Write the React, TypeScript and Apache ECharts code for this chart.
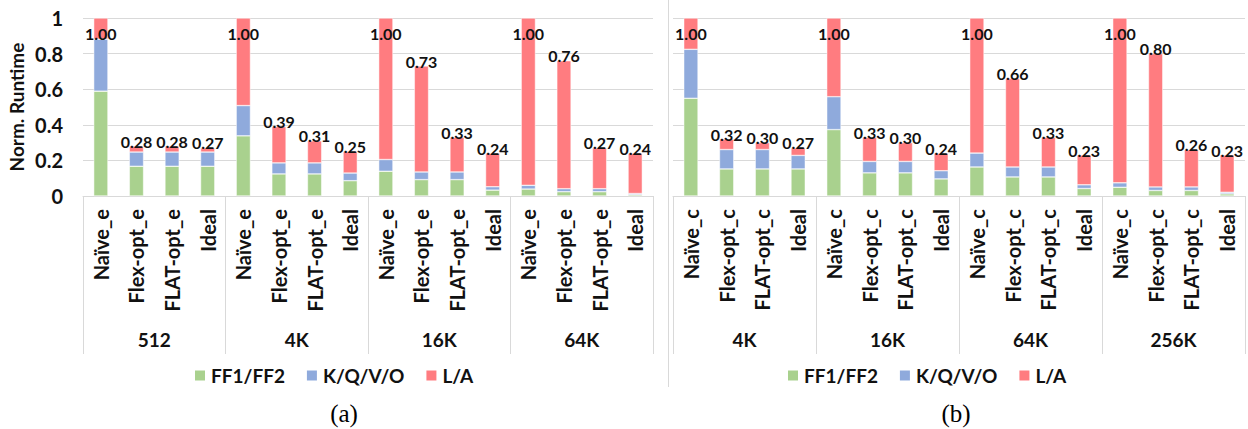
import React, { useEffect, useRef } from "react";
import * as echarts from "echarts";

// Stage labels and sequence-length groups
const stagesE = ["Naïve_e", "Flex-opt_e", "FLAT-opt_e", "Ideal"];
const stagesC = ["Naïve_c", "Flex-opt_c", "FLAT-opt_c", "Ideal"];
const groupsE = ["512", "4K", "16K", "64K"];
const groupsC = ["4K", "16K", "64K", "256K"];

const seriesNames = ["FF1/FF2", "K/Q/V/O", "L/A"];

// (a) encoder runtimes, normalised
const ffE = [0.589, 0.167, 0.167, 0.167, 0.338, 0.124, 0.124, 0.086, 0.139, 0.092, 0.092, 0.033, 0.039, 0.024, 0.024, 0.007];
const kqE = [0.292, 0.08, 0.08, 0.08, 0.17, 0.062, 0.062, 0.043, 0.066, 0.043, 0.043, 0.019, 0.021, 0.017, 0.017, 0.007];
const totalE = [1.0, 0.28, 0.28, 0.27, 1.0, 0.39, 0.31, 0.25, 1.0, 0.73, 0.33, 0.24, 1.0, 0.76, 0.27, 0.24];

// (b) decoder runtimes, normalised
const ffC = [0.549, 0.152, 0.152, 0.152, 0.373, 0.13, 0.13, 0.096, 0.163, 0.107, 0.107, 0.042, 0.049, 0.031, 0.031, 0.012];
const kqC = [0.275, 0.109, 0.109, 0.076, 0.185, 0.064, 0.064, 0.046, 0.078, 0.056, 0.056, 0.021, 0.025, 0.02, 0.02, 0.009];
const totalC = [1.0, 0.32, 0.3, 0.27, 1.0, 0.33, 0.3, 0.24, 1.0, 0.66, 0.33, 0.23, 1.0, 0.8, 0.26, 0.23];

const yTicks = { min: 0, max: 1, interval: 0.2 };

const COLORS = ["#A9D18E", "#8FAADC", "#FF7C80"];
const FONT = "Lato, 'DejaVu Sans', sans-serif";
const GRID_LINE = "#D9D9D9";
const TEXT = "#111";

function expand(stages: string[], groups: string[]) {
  const out: string[] = [];
  groups.forEach(() => stages.forEach((s) => out.push(s)));
  return out;
}

function panelSeries(idx: number, ff: number[], kq: number[], total: number[]) {
  const stack = "s" + idx;
  const base = {
    type: "bar" as const,
    stack,
    xAxisIndex: idx * 2,
    yAxisIndex: idx,
    barWidth: "40%",
    itemStyle: { borderColor: "#fff", borderWidth: 0.5 },
  };
  return [
    { ...base, name: seriesNames[0], data: ff, itemStyle: { ...base.itemStyle, color: COLORS[0] } },
    { ...base, name: seriesNames[1], data: kq, itemStyle: { ...base.itemStyle, color: COLORS[1] } },
    {
      ...base,
      name: seriesNames[2],
      itemStyle: { ...base.itemStyle, color: COLORS[2] },
      data: total.map((t, i) => {
        const v = +(t - ff[i] - kq[i]).toFixed(4);
        return t >= 1
          ? { value: v, label: { position: "insideTop", distance: 4 } }
          : { value: v };
      }),
      label: {
        show: true,
        position: "top",
        distance: 0,
        offset: [0, 3],
        fontFamily: FONT,
        fontWeight: "bold",
        fontSize: 16,
        color: TEXT,
        formatter: (p: any) => total[p.dataIndex].toFixed(2),
      },
    },
  ];
}

function panelAxes(stages: string[], groups: string[], gridIndex: number) {
  return [
    {
      type: "category",
      gridIndex,
      data: expand(stages, groups),
      position: "bottom",
      axisLine: { show: true, lineStyle: { color: GRID_LINE, width: 1 } },
      axisTick: { show: false },
      axisLabel: {
        interval: 0,
        rotate: 90,
        margin: 13,
        fontFamily: FONT,
        fontWeight: "bold",
        fontSize: 20,
        color: TEXT,
      },
    },
    {
      type: "category",
      gridIndex,
      data: groups,
      position: "bottom",
      offset: 0,
      axisLine: { show: false },
      axisTick: { show: true, length: 158, interval: 0, lineStyle: { color: GRID_LINE, width: 1 } },
      axisLabel: {
        interval: 0,
        margin: 134,
        fontFamily: FONT,
        fontWeight: "bold",
        fontSize: 19,
        color: TEXT,
      },
    },
  ];
}

function legendAt(left: number) {
  return {
    left,
    top: 366,
    padding: 0,
    itemWidth: 12,
    itemHeight: 12,
    itemGap: 20,
    icon: "rect",
    selectedMode: false,
    data: seriesNames,
    textStyle: { fontFamily: FONT, fontWeight: "bold", fontSize: 19, color: TEXT },
  };
}

export default function App() {
  const ref = useRef<HTMLDivElement>(null);

  useEffect(() => {
    if (!ref.current) return;
    const chart = echarts.init(ref.current, undefined, { renderer: "svg" });

    const yAxisBase = {
      type: "value",
      ...yTicks,
      axisLine: { show: false },
      axisTick: { show: false },
      splitLine: { lineStyle: { color: GRID_LINE, width: 1 } },
    };

    const captionFont = "25px 'Liberation Serif', 'DejaVu Serif', serif";

    chart.setOption({
      animation: false,
      backgroundColor: "#fff",
      grid: [
        { left: 83, right: 595, top: 18, bottom: 233 },
        { left: 673, right: 3, top: 18, bottom: 233 },
      ],
      xAxis: [...panelAxes(stagesE, groupsE, 0), ...panelAxes(stagesC, groupsC, 1)],
      yAxis: [
        {
          ...yAxisBase,
          gridIndex: 0,
          name: "Norm. Runtime",
          nameLocation: "middle",
          nameGap: 57,
          nameTextStyle: { fontFamily: FONT, fontWeight: "bold", fontSize: 19, color: TEXT },
          axisLabel: { fontFamily: FONT, fontWeight: "bold", fontSize: 20, color: TEXT, margin: 20 },
        },
        { ...yAxisBase, gridIndex: 1, axisLabel: { show: false } },
      ],
      legend: [legendAt(193), legendAt(786)],
      series: [...panelSeries(0, ffE, kqE, totalE), ...panelSeries(1, ffC, kqC, totalC)],
      graphic: [
        {
          type: "line",
          shape: { x1: 668.5, y1: 0, x2: 668.5, y2: 387 },
          style: { stroke: GRID_LINE, lineWidth: 1 },
        },
        {
          type: "text",
          x: 344,
          y: 413,
          style: { text: "(a)", font: captionFont, fill: "#000", align: "center", verticalAlign: "middle" },
        },
        {
          type: "text",
          x: 956,
          y: 413,
          style: { text: "(b)", font: captionFont, fill: "#000", align: "center", verticalAlign: "middle" },
        },
      ],
    });

    return () => chart.dispose();
  }, []);

  return (
    <div
      ref={ref}
      style={{ position: "fixed", left: 0, top: 0, width: 1248, height: 429, background: "#fff" }}
    />
  );
}
